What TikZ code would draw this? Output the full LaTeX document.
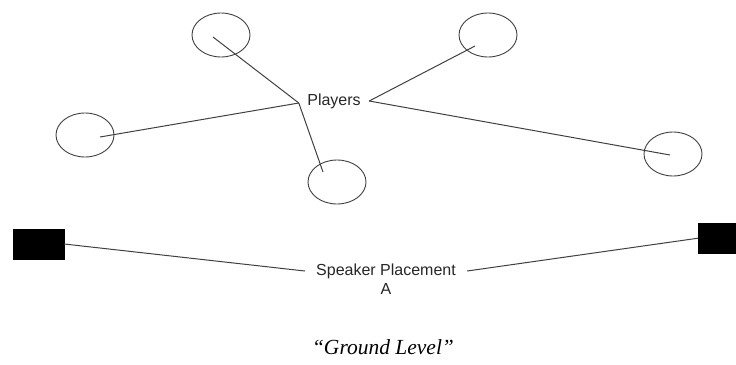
\documentclass[tikz,border=0pt]{standalone}
\usepackage{fontspec}
\setmainfont{Liberation Serif}
\newfontfamily\labelfont{Liberation Sans}
\usetikzlibrary{shapes.geometric}
\begin{document}
\begin{tikzpicture}[x=1pt,y=-1pt,
  player/.style={draw=black!75, line width=0.9pt, ellipse, minimum width=58pt, minimum height=44pt, inner sep=0pt},
  speaker/.style={fill=black, draw=black, inner sep=0pt},
  lbl/.style={font=\labelfont\fontsize{16}{18}\selectfont, text=black!85, inner sep=0pt},
  wire/.style={draw=black!75, line width=1pt}]
  \useasboundingbox (0,0) rectangle (736,364);
  % player positions
  \node[player] (p1) at (221,35) {};
  \node[player] (p2) at (488,35) {};
  \node[player] (p3) at (85,135) {};
  \node[player] (p4) at (337,182) {};
  \node[player] (p5) at (673,154) {};
  % inner ends of the player leads
  \coordinate (p1in) at (213,37);
  \coordinate (p2in) at (475,46);
  \coordinate (p3in) at (100,137);
  \coordinate (p4in) at (323,172);
  \coordinate (p5in) at (670,155);
  % players label
  \node[lbl, minimum width=70pt, minimum height=8pt] (players) at (334,101) {Players};
  \draw[wire] (p1in) -- ([yshift=-2pt]players.west);
  \draw[wire] (p3in) -- ([yshift=-2pt]players.west);
  \draw[wire] (p4in) -- ([yshift=-2pt]players.west);
  \draw[wire] (p2in) -- (players.east);
  \draw[wire] (p5in) -- (players.east);
  % speakers
  \node[speaker, minimum width=51pt, minimum height=30pt] (spkL) at (38.5,244) {};
  \node[speaker, minimum width=39pt, minimum height=30pt, anchor=north west] (spkR) at (698,223) {};
  \node[lbl, minimum width=162pt] (spk) at (386,271) {Speaker Placement};
  \node[lbl] (mark) at (386,289) {A};
  \draw[wire] (spkL.east) -- (spk.west);
  \draw[wire] (spkR.west) -- (spk.east);
  % caption
  \node[font=\itshape\fontsize{21.5}{25}\selectfont, inner sep=0pt] (caption) at (383,347) {“Ground Level”};
\end{tikzpicture}
\end{document}
